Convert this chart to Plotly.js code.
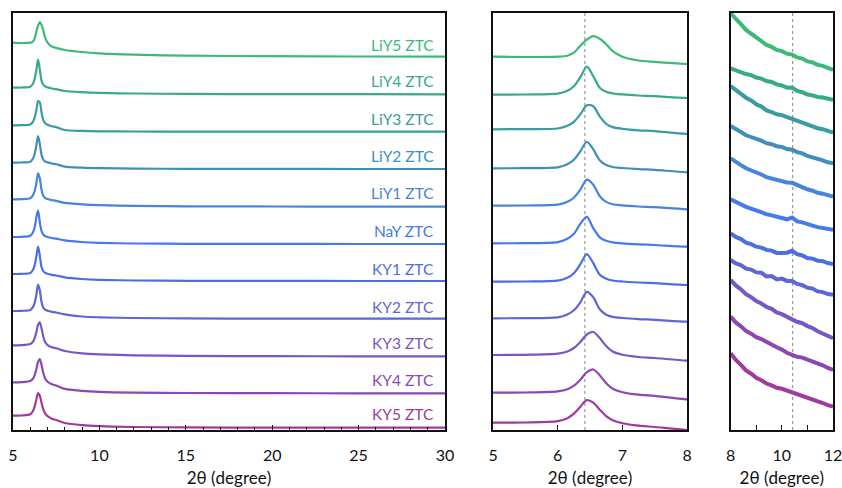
<!DOCTYPE html>
<html>
<head>
<meta charset="utf-8">
<script src="https://cdn.plot.ly/plotly-3.0.1.min.js"></script>
<style>html,body{margin:0;padding:0;background:#fff;}#chart{width:842px;height:488px;}</style>
</head>
<body>
<div id="chart"></div>
<script>
// ---------- DATA ----------
const samples = ['LiY5 ZTC','LiY4 ZTC','LiY3 ZTC','LiY2 ZTC','LiY1 ZTC','NaY ZTC','KY1 ZTC','KY2 ZTC','KY3 ZTC','KY4 ZTC','KY5 ZTC'];

// 2θ grid for the wide (5–30) and peak (5–8) panels
const twoTheta = [5, 5.5, 6, 6.15, 6.25, 6.35, 6.45, 6.55, 6.65, 6.75, 6.85, 7, 7.25, 7.5, 8, 9, 10, 12, 15, 20, 25, 30];

// intensity (a.u.) relative to the value at 5°
const profLiY5 = [0, -0.3, 0, 1, 4, 11, 17, 20.5, 18, 12.5, 5.5, 0, -3.8, -5.2, -7.3, -9.3, -10.6, -12, -13, -13.5, -13.8, -14];
const profLiY4 = [0, 0.2, 1, 4, 8.5, 17.5, 28, 18.5, 7, 3, 1.3, 0.3, -0.8, -1.5, -3.3, -4.5, -5.2, -5.8, -6.2, -6.4, -6.5, -6.6];
const profLiY3 = [0, 0.2, 0.8, 3.5, 7.5, 15, 24, 23, 13, 5.5, 2.2, 0.5, -1, -1.8, -4.7, -5.6, -6, -6.2, -6.3, -6.4, -6.4, -6.4];
const profLiY2 = [0, 0.2, 1, 4, 8.5, 17, 26.5, 19, 8, 3.2, 1.3, 0.3, -0.8, -1.5, -4, -5, -5.5, -5.9, -6.1, -6.2, -6.3, -6.3];
const profLiY1 = [0, 0.2, 1, 4, 8, 16, 26, 21, 9.5, 3.8, 1.5, 0.3, -0.8, -1.5, -3.6, -5, -5.8, -6.5, -7, -7.2, -7.3, -7.4];
const profNaY  = [0, 0.2, 1.2, 4.5, 9.5, 19.5, 26.5, 15, 6, 2.5, 1, 0, -1, -1.7, -3.4, -5, -5.8, -6.5, -6.8, -6.9, -7, -7];
const profKY1  = [0, 0.2, 1, 4, 8.5, 17.5, 27.5, 18.5, 7, 3, 1.2, 0.2, -0.8, -1.5, -3.3, -5, -5.8, -6.5, -6.8, -6.9, -7, -7];
const profKY2  = [0, 0.2, 1, 3.8, 8, 16, 26.5, 21, 9, 3.5, 1.4, 0.3, -0.8, -1.5, -3.4, -5.5, -6.3, -7, -7.4, -7.6, -7.7, -7.7];
const profKY3  = [0, 0.2, 1.3, 3.5, 7, 13, 20.5, 23, 17, 9, 3.5, 0.2, -2, -3, -5.7, -8, -9, -10, -10.6, -10.9, -11, -11];
const profKY4  = [0, 0.2, 1.3, 3.5, 7, 13, 20.5, 23.2, 17.5, 9.5, 4, 0.5, -2, -3.2, -6.6, -8.5, -9.5, -10.3, -10.7, -10.9, -11, -11];
const profKY5  = [0, 0.2, 1.5, 4.5, 9, 16, 22.5, 20, 13, 6.5, 2.5, -0.5, -3, -4.3, -7.3, -9.5, -10.5, -11.3, -11.7, -11.9, -12, -12];
const profiles = [profLiY5, profLiY4, profLiY3, profLiY2, profLiY1, profNaY, profKY1, profKY2, profKY3, profKY4, profKY5];

// stacking offsets (a.u.) of each pattern in the wide and the peak panels
const offsetWide = [387.3, 342.3, 304.7, 267.3, 230.7, 193, 156, 119, 84.7, 47.7, 14.3];
const offsetPeak = [373.3, 335.3, 300.7, 261.7, 224.3, 186.7, 148.3, 111.7, 75, 37.3, 7.3];

// 8–12° region (stacked, enlarged intensity)
const tailTheta = [8, 8.2, 8.4, 8.6, 8.8, 9, 9.2, 9.4, 9.6, 9.8, 10, 10.2, 10.4, 10.6, 10.8, 11, 11.2, 11.4, 11.6, 11.8, 12];
const tailLiY5 = [416.7, 410.6, 405.9, 400.1, 396.4, 391.6, 388.9, 385.1, 383.1, 380.1, 378.9, 376.3, 375.4, 372.6, 371.4, 368.6, 367.6, 365.1, 364.1, 361.6, 360];
const tailLiY4 = [361.7, 359.6, 358.4, 356, 354.9, 352.5, 351.4, 349, 348, 345.6, 344.5, 342.3, 342.4, 339, 337.8, 335.5, 334.6, 333, 332.5, 330.8, 330.1];
const tailLiY3 = [344, 339.7, 336.5, 332.3, 329.5, 325.8, 323.4, 319.6, 318, 315.7, 314.9, 313, 311.9, 309.6, 308.3, 305.7, 304.3, 301.8, 300.8, 298.7, 297.4];
const tailLiY2 = [304, 300.4, 298, 294.7, 293.1, 290.6, 289.3, 286.8, 285.8, 283.7, 283, 281, 280.3, 277.9, 276.6, 274, 272.8, 270.7, 269.7, 267.7, 266.8];
const tailLiY1 = [271.7, 267.7, 264.9, 261.7, 259.8, 256.9, 255.5, 252.9, 251.6, 249.8, 249.5, 247.6, 247.2, 244.7, 243.3, 240.7, 239.3, 237.2, 236.3, 234.4, 233.4];
const tailNaY  = [230.7, 227.8, 225.5, 223.1, 221.3, 219.3, 217.9, 215.9, 214.6, 213, 212.1, 210.7, 212.5, 208.6, 207.6, 205.6, 204.3, 202.9, 202.1, 200.9, 200.1];
const tailKY1  = [196.7, 193.1, 190.9, 187.3, 185.9, 183.3, 182.4, 180.1, 179.4, 177.1, 176.9, 177.3, 179.2, 175.9, 174.5, 172, 171.4, 169.3, 168.9, 166.9, 166.1];
const tailKY2  = [170, 166.6, 164.9, 161.4, 160.4, 157.6, 157.2, 153.6, 153.9, 150.6, 151.4, 149.1, 148.9, 146.1, 144.9, 142.3, 141.4, 138.6, 137.9, 135.9, 135.2];
const tailKY3  = [150, 144.6, 140.7, 135.8, 132.8, 128.9, 126.5, 123.1, 121.1, 117.6, 115.8, 112.7, 110.6, 108.2, 106.8, 103.9, 101.9, 98.8, 96.7, 93.9, 91.8];
const tailKY4  = [113.3, 107.6, 103.7, 99.1, 96.3, 92.9, 90.9, 87.9, 86, 82.7, 80.4, 77.2, 75.2, 73.2, 72.4, 70.4, 69.2, 66.4, 64.7, 62, 60.1];
const tailKY5  = [76.7, 70.1, 65.2, 59.6, 56.3, 52.2, 49.7, 46.5, 44.6, 42.2, 41.2, 39.4, 38.5, 36.2, 34.9, 32.4, 31, 28.5, 27, 24.8, 23.4];
const tails = [tailLiY5, tailLiY4, tailLiY3, tailLiY2, tailLiY1, tailNaY, tailKY1, tailKY2, tailKY3, tailKY4, tailKY5];

// label heights (a.u., wide panel)
const labelLevel = [385, 349, 311, 274, 236.7, 199, 160.7, 123.3, 86.7, 50, 16];

// reference positions (dotted lines)
const refPeak = 6.42;
const refTail = 10.42;

// ---------- STYLE ----------
const colors = ['#3dba7a','#38aa8a','#389ca0','#418dbd','#4784dc','#4679eb','#4c6fe0','#5f66d3','#7657c4','#8a47b5','#a03a9c'];
const FONT = 'Lato, "Open Sans", sans-serif';

const traces = [];
samples.forEach((name, i) => {
  const wideY = profiles[i].map(v => v + offsetWide[i]);
  const peakY = profiles[i].map(v => v + offsetPeak[i]);
  traces.push({x: twoTheta, y: wideY, xaxis: 'x', yaxis: 'y', mode: 'lines', name: name,
    line: {color: colors[i], width: 2.2, shape: 'spline', smoothing: 0.8}, showlegend: false, hoverinfo: 'skip'});
  traces.push({x: twoTheta, y: peakY, xaxis: 'x2', yaxis: 'y2', mode: 'lines', name: name,
    line: {color: colors[i], width: 2.2, shape: 'spline', smoothing: 0.8}, showlegend: false, hoverinfo: 'skip'});
  traces.push({x: tailTheta, y: tails[i], xaxis: 'x3', yaxis: 'y3', mode: 'lines', name: name,
    line: {color: colors[i], width: 4}, showlegend: false, hoverinfo: 'skip'});
});

const axisCommon = {
  showline: true, mirror: true, linecolor: '#111', linewidth: 1.6,
  showgrid: false, zeroline: false, ticks: 'inside', ticklen: 5, tickwidth: 1.3, tickcolor: '#111',
  tickfont: {family: FONT, size: 16, color: '#111'}, ticklabelstandoff: 10, ticklabeloverflow: 'allow'
};
const xTitle = {text: '2θ (degree)', font: {family: FONT, size: 17, color: '#111'}, standoff: 12};
const yCommon = {showline: true, mirror: true, linecolor: '#111', linewidth: 1.6, showgrid: false,
  zeroline: false, showticklabels: false, ticks: '', range: [0, 417], fixedrange: true};

const layout = {
  width: 842, height: 488,
  margin: {l: 13, r: 9, t: 13, b: 58},
  paper_bgcolor: '#fff', plot_bgcolor: '#fff',
  xaxis: Object.assign({}, axisCommon, {domain: [0, 0.5268], range: [5, 30], tickvals: [5, 10, 15, 20, 25, 30],
    minor: {dtick: 1, ticks: 'inside', ticklen: 3, tickwidth: 1, tickcolor: '#111', showgrid: false}, title: xTitle}),
  xaxis2: Object.assign({}, axisCommon, {domain: [0.5854, 0.822], range: [5, 8], tickvals: [5, 6, 7, 8], title: xTitle}),
  xaxis3: Object.assign({}, axisCommon, {domain: [0.8752, 1], range: [8, 12], tickvals: [8, 10, 12],
    minor: {dtick: 1, ticks: 'inside', ticklen: 5, tickwidth: 1.3, tickcolor: '#111', showgrid: false}, title: xTitle}),
  yaxis: Object.assign({}, yCommon, {anchor: 'x'}),
  yaxis2: Object.assign({}, yCommon, {anchor: 'x2'}),
  yaxis3: Object.assign({}, yCommon, {anchor: 'x3'}),
  shapes: [
    {type: 'line', xref: 'x2', yref: 'y2', x0: refPeak, x1: refPeak, y0: 0, y1: 417, line: {color: '#999', width: 1.2, dash: 'dot'}, layer: 'below'},
    {type: 'line', xref: 'x3', yref: 'y3', x0: refTail, x1: refTail, y0: 0, y1: 417, line: {color: '#999', width: 1.2, dash: 'dot'}, layer: 'below'}
  ],
  annotations: samples.map((name, i) => ({
    text: name, xref: 'x', yref: 'y', x: 29.5, y: labelLevel[i], xanchor: 'right', yanchor: 'middle',
    showarrow: false, font: {family: FONT, size: 15.5, color: colors[i]}
  }))
};

Plotly.newPlot('chart', traces, layout, {staticPlot: true, displayModeBar: false});
</script>
</body>
</html>
